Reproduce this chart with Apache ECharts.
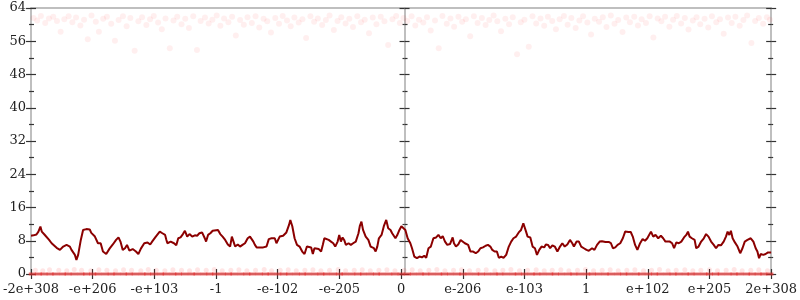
<!DOCTYPE html>
<html><head><meta charset="utf-8">
<script src="https://cdn.jsdelivr.net/npm/echarts@6/dist/echarts.min.js"></script>
<style>html,body{margin:0;padding:0;background:#fff}#c{width:800px;height:300px}</style>
</head><body><div id="c"></div>
<script>
const xLabels = ['-2e+308','-e+206','-e+103','-1','-e-102','-e-205','0','e-206','e-103','1','e+102','e+205','2e+308'];
const yTicks = [0,8,16,24,32,40,48,56,64];

const lineX = [-6.000,-5.960,-5.912,-5.880,-5.848,-5.826,-5.783,-5.751,-5.707,-5.666,-5.638,-5.585,-5.531,-5.478,-5.424,-5.370,-5.344,-5.289,-5.264,-5.236,-5.193,-5.156,-5.103,-5.048,-5.023,-4.968,-4.915,-4.871,-4.834,-4.781,-4.727,-4.674,-4.621,-4.582,-4.550,-4.513,-4.476,-4.444,-4.405,-4.352,-4.299,-4.260,-4.219,-4.164,-4.111,-4.068,-4.031,-3.977,-3.913,-3.870,-3.826,-3.805,-3.789,-3.736,-3.682,-3.645,-3.613,-3.576,-3.537,-3.505,-3.468,-3.431,-3.387,-3.344,-3.307,-3.270,-3.227,-3.183,-3.162,-3.130,-3.093,-3.055,-3.023,-2.969,-2.932,-2.894,-2.852,-2.809,-2.772,-2.744,-2.717,-2.691,-2.648,-2.611,-2.572,-2.531,-2.487,-2.450,-2.423,-2.395,-2.370,-2.342,-2.289,-2.235,-2.209,-2.182,-2.145,-2.101,-2.048,-2.021,-1.994,-1.968,-1.913,-1.860,-1.817,-1.796,-1.764,-1.727,-1.688,-1.646,-1.603,-1.566,-1.527,-1.495,-1.458,-1.431,-1.405,-1.378,-1.334,-1.297,-1.270,-1.244,-1.217,-1.174,-1.137,-1.100,-1.068,-1.029,-1.003,-0.976,-0.949,-0.923,-0.895,-0.852,-0.815,-0.778,-0.735,-0.691,-0.670,-0.643,-0.617,-0.574,-0.531,-0.494,-0.466,-0.441,-0.413,-0.386,-0.360,-0.317,-0.280,-0.241,-0.209,-0.172,-0.145,-0.119,-0.092,-0.064,-0.027,0.005,0.032,0.069,0.106,0.150,0.177,0.214,0.257,0.299,0.338,0.375,0.407,0.444,0.482,0.524,0.568,0.605,0.643,0.675,0.712,0.749,0.793,0.836,0.857,0.889,0.926,0.965,0.997,1.034,1.087,1.125,1.167,1.211,1.248,1.286,1.328,1.371,1.408,1.447,1.479,1.516,1.553,1.585,1.624,1.661,1.704,1.746,1.785,1.822,1.865,1.907,1.945,1.982,2.000,2.026,2.051,2.095,2.132,2.170,2.203,2.240,2.277,2.320,2.347,2.384,2.416,2.453,2.492,2.534,2.577,2.614,2.653,2.695,2.738,2.775,2.802,2.846,2.883,2.920,2.963,3.006,3.043,3.096,3.135,3.177,3.220,3.257,3.312,3.365,3.402,3.434,3.473,3.510,3.553,3.595,3.633,3.686,3.723,3.756,3.794,3.831,3.875,3.916,3.955,3.992,4.008,4.051,4.088,4.125,4.169,4.212,4.249,4.286,4.318,4.357,4.394,4.426,4.463,4.502,4.543,4.587,4.624,4.651,4.678,4.715,4.759,4.785,4.823,4.865,4.908,4.945,4.984,5.026,5.069,5.106,5.145,5.186,5.230,5.267,5.294,5.322,5.347,5.375,5.412,5.455,5.498,5.535,5.572,5.616,5.669,5.712,5.749,5.777,5.804,5.830,5.873,5.910,5.949,6.000];
const lineY = [9.2,9.3,9.5,10.2,11.4,10.2,9.5,9.3,8.2,7.4,7.0,6.3,5.8,6.6,7.0,6.6,5.8,4.6,3.4,4.6,8.2,10.6,10.8,10.7,9.9,9.1,7.4,7.4,5.4,4.8,6.1,7.1,8.2,8.8,7.8,5.8,6.2,7.0,5.6,6.0,5.4,4.8,6.1,7.4,7.6,7.1,7.9,9.0,10.2,9.8,9.4,8.2,7.4,7.8,7.4,6.9,8.6,8.8,9.6,10.4,9.0,9.6,9.0,9.3,9.2,9.8,10.0,8.6,7.8,9.4,9.8,10.4,10.6,10.6,9.6,9.0,8.2,7.1,6.6,9.0,7.8,6.6,7.1,6.6,7.0,7.4,8.6,9.0,8.6,7.8,7.0,6.4,6.4,6.4,6.0,6.6,8.4,8.6,8.6,7.4,7.0,9.0,9.2,10.0,11.8,13.0,11.5,8.6,7.0,6.6,5.4,4.8,6.6,7.0,6.4,4.8,6.2,5.8,6.0,5.4,7.0,8.6,8.6,8.2,7.8,7.4,6.6,7.8,9.4,7.8,8.8,8.2,7.0,7.4,7.0,7.4,7.8,9.8,11.5,12.6,10.6,9.0,8.2,6.6,7.0,6.2,5.4,6.6,8.6,9.4,11.5,13.0,11.0,10.6,9.8,10.2,8.6,9.3,10.6,11.5,11.3,10.6,8.6,7.4,6.2,4.2,3.8,4.2,4.0,4.4,3.9,6.2,6.6,8.6,8.8,9.4,8.6,9.1,7.8,7.0,7.2,8.8,7.4,6.6,7.1,8.2,8.6,7.4,7.0,5.4,5.4,5.0,5.4,6.2,6.4,6.8,7.0,6.6,5.8,5.4,5.4,3.9,4.2,3.9,4.6,6.6,7.8,8.6,9.0,10.0,10.6,12.2,12.0,10.2,9.0,8.8,6.6,6.2,4.6,5.8,6.6,6.4,7.1,7.0,6.2,6.9,6.6,5.4,6.6,7.4,6.6,7.1,8.2,7.4,6.6,7.8,7.8,6.6,6.2,5.8,5.6,6.2,5.8,7.0,7.8,7.9,7.7,7.7,7.4,6.2,6.4,7.0,7.4,8.6,10.2,10.1,10.1,9.0,7.0,5.8,7.4,8.4,8.0,8.6,9.0,10.2,9.0,9.4,8.6,9.2,8.6,7.8,8.2,7.8,7.4,6.2,7.6,7.4,7.8,8.8,9.4,10.2,9.0,8.6,8.2,6.2,6.6,7.8,8.6,9.6,9.0,7.8,7.0,6.2,7.0,6.9,7.8,9.0,10.2,9.4,10.4,8.6,7.6,6.6,5.0,6.2,7.8,8.2,8.6,7.8,6.2,5.4,3.8,4.8,4.6,4.8,5.2,5.2];

const topPts = [[-5.96,61.6],[-5.90,61.0],[-5.84,62.1],[-5.77,60.4],[-5.71,61.5],[-5.64,61.9],[-5.58,60.9],
[-5.52,58.3],[-5.46,61.3],[-5.39,62.0],[-5.33,60.6],[-5.27,61.7],[-5.20,59.8],[-5.14,61.2],
[-5.08,56.5],[-5.02,62.2],[-4.95,60.7],[-4.90,58.3],[-4.83,61.4],[-4.77,61.9],[-4.70,60.2],
[-4.64,56.1],[-4.58,61.1],[-4.51,62.0],[-4.45,59.6],[-4.39,61.6],[-4.32,53.7],[-4.26,60.8],
[-4.20,61.8],[-4.13,59.9],[-4.07,61.3],[-4.01,62.1],[-3.94,60.5],[-3.88,58.9],[-3.82,61.5],
[-3.75,54.3],[-3.69,61.0],[-3.63,61.9],[-3.56,60.1],[-3.50,61.4],[-3.44,59.2],[-3.37,62.0],
[-3.31,53.9],[-3.25,60.9],[-3.18,61.7],[-3.12,60.3],[-3.06,61.2],[-2.99,62.2],[-2.93,59.7],
[-2.87,61.5],[-2.80,60.6],[-2.74,61.9],[-2.68,57.4],[-2.61,61.1],[-2.55,60.0],[-2.49,61.8],
[-2.42,60.4],[-2.36,62.0],[-2.30,59.3],[-2.23,61.4],[-2.17,60.8],[-2.11,58.1],[-2.04,61.6],
[-1.98,60.2],[-1.92,62.1],[-1.85,61.0],[-1.79,59.6],[-1.73,61.7],[-1.66,60.5],[-1.60,61.3],
[-1.54,56.8],[-1.47,62.0],[-1.41,60.7],[-1.35,61.5],[-1.28,59.9],[-1.22,61.1],[-1.16,62.2],
[-1.09,58.7],[-1.03,60.9],[-0.97,61.8],[-0.90,60.3],[-0.84,61.4],[-0.78,59.4],[-0.71,62.0],
[-0.65,60.6],[-0.59,61.2],[-0.52,57.9],[-0.46,61.7],[-0.40,60.1],[-0.33,61.9],[-0.27,60.8],
[-0.21,55.1],[-0.14,61.3],[-0.08,62.1],[-0.02,60.4],
[0.04,61.6],[0.10,60.9],[0.17,62.0],[0.23,59.8],[0.29,61.2],[0.36,60.5],[0.42,61.8],
[0.48,58.6],[0.55,61.0],[0.61,54.3],[0.67,62.1],[0.74,60.2],[0.80,61.5],[0.86,59.5],
[0.93,61.9],[0.99,60.7],[1.05,61.3],[1.12,57.2],[1.18,62.0],[1.24,60.4],[1.31,61.6],
[1.37,59.9],[1.43,61.1],[1.50,62.2],[1.56,60.8],[1.62,58.4],[1.69,61.4],[1.75,60.1],
[1.81,61.8],[1.88,52.9],[1.94,60.6],[2.00,61.2],[2.07,54.7],[2.13,62.0],[2.19,60.3],
[2.26,61.5],[2.32,59.7],[2.38,61.9],[2.45,60.9],[2.51,58.9],[2.57,61.3],[2.64,62.1],
[2.70,60.0],[2.76,61.6],[2.83,59.2],[2.89,61.0],[2.95,62.0],[3.02,60.5],[3.08,57.6],
[3.14,61.4],[3.21,60.7],[3.27,61.8],[3.33,59.4],[3.40,62.2],[3.46,60.2],[3.52,61.1],
[3.59,58.2],[3.65,61.7],[3.71,60.6],[3.78,61.9],[3.84,59.8],[3.90,61.3],[3.97,60.4],
[4.03,62.0],[4.09,56.9],[4.16,61.5],[4.22,60.8],[4.28,61.9],[4.35,59.5],[4.41,61.2],
[4.47,62.1],[4.54,60.3],[4.60,61.6],[4.66,58.8],[4.73,61.0],[4.79,61.8],[4.85,60.1],
[4.92,61.4],[4.98,59.3],[5.04,62.0],[5.11,60.6],[5.17,61.3],[5.23,57.8],[5.30,61.7],
[5.36,60.4],[5.42,61.9],[5.49,59.7],[5.55,61.1],[5.61,62.2],[5.68,55.6],[5.74,60.9],
[5.80,61.6],[5.87,60.2],[5.93,61.8],[5.98,61.2]];

const onePts = [[-5.93,0.9],[-5.81,0.8],[-5.70,1.0],[-5.55,0.9],[-5.42,0.8],[-5.30,1.1],[-5.18,0.9],[-5.03,0.8],[-4.90,1.0],[-4.77,0.9],[-4.63,0.8],[-4.50,1.0],[-4.37,0.9],[-4.22,0.8],[-4.10,1.1],[-3.97,0.9],[-3.83,0.8],[-3.70,1.0],[-3.56,0.9],[-3.43,0.8],[-3.30,1.0],[-3.16,0.9],[-3.03,1.1],[-2.90,0.8],[-2.76,0.9],[-2.63,1.0],[-2.50,0.8],[-2.36,0.9],[-2.22,1.1],[-2.10,0.8],[-1.96,0.9],[-1.83,1.0],[-1.70,0.8],[-1.56,0.9],[-1.43,1.0],[-1.30,0.8],[-1.16,0.9],[-1.02,1.1],[-0.90,0.8],[-0.76,0.9],[-0.63,1.0],[-0.50,0.8],[-0.36,0.9],[-0.23,1.0],[-0.10,0.8],
[0.05,0.9],[0.18,1.0],[0.31,0.8],[0.45,0.9],[0.58,1.1],[0.71,0.8],[0.85,0.9],[0.98,1.0],[1.11,0.8],[1.25,0.9],[1.38,1.0],[1.52,0.8],[1.65,0.9],[1.78,1.1],[1.92,0.8],[2.05,0.9],[2.19,1.0],[2.32,0.8],[2.45,0.9],[2.59,1.0],[2.72,0.8],[2.86,0.9],[2.99,1.1],[3.12,0.8],[3.26,0.9],[3.39,1.0],[3.52,0.8],[3.66,0.9],[3.79,1.0],[3.93,0.8],[4.06,0.9],[4.19,1.1],[4.33,0.8],[4.46,0.9],[4.60,1.0],[4.73,0.8],[4.86,0.9],[5.00,1.0],[5.13,0.8],[5.27,0.9],[5.40,1.1],[5.53,0.8],[5.67,0.9],[5.80,1.0],[5.94,0.8]];

const zeroX = [-5.98,-5.88,-5.79,-5.69,-5.60,-5.49,-5.40,-5.30,-5.19,-5.10,-5.00,-4.91,-4.80,-4.70,-4.61,-4.50,-4.41,-4.31,-4.20,-4.11,-4.01,-3.90,-3.81,-3.70,-3.61,-3.51,-3.40,-3.31,-3.20,-3.10,-3.01,-2.90,-2.80,-2.71,-2.60,-2.50,-2.41,-2.30,-2.20,-2.11,-2.00,-1.90,-1.81,-1.70,-1.60,-1.51,-1.40,-1.30,-1.21,-1.10,-1.00,-0.91,-0.80,-0.70,-0.61,-0.50,-0.40,-0.31,-0.20,-0.10,0.00,0.10,0.20,0.31,0.40,0.50,0.61,0.70,0.80,0.91,1.00,1.10,1.21,1.30,1.40,1.51,1.60,1.70,1.81,1.90,2.00,2.11,2.20,2.30,2.41,2.50,2.60,2.71,2.80,2.90,3.01,3.10,3.20,3.31,3.40,3.51,3.61,3.70,3.81,3.90,4.01,4.11,4.20,4.31,4.41,4.50,4.61,4.70,4.80,4.91,5.00,5.10,5.19,5.30,5.40,5.49,5.60,5.69,5.79,5.88,5.98];
const zeroY = zeroX.map(() => 0);

const FONT = 'DejaVu Serif';
const GRAY = '#aaaaaa';
const TICK = '#333333';
const gridW = 800 - 27 - 26;

function mergeDeep(base, extra) {
  for (const k in extra) {
    if (extra[k] && typeof extra[k] === 'object' && !Array.isArray(extra[k]) && base[k] && typeof base[k] === 'object') mergeDeep(base[k], extra[k]);
    else base[k] = extra[k];
  }
  return base;
}
function Y(pos, offset, inside, line, labels, minorLen) {
  const a = {
    type: 'value', position: pos, offset: offset,
    min: yTicks[0], max: yTicks[yTicks.length - 1], interval: yTicks[1] - yTicks[0],
    splitLine: { show: false },
    axisLine: { show: line, onZero: false, lineStyle: { color: GRAY, width: 1.5 } },
    axisTick: { show: true, inside: inside, length: 5, lineStyle: { color: TICK, width: 1.2 } },
    minorTick: { show: true, splitNumber: 2, length: minorLen, lineStyle: { color: TICK, width: 1.2 } },
    axisLabel: { show: false }
  };
  if (labels) a.axisLabel = { show: true, margin: 5, fontFamily: FONT, fontSize: 13, color: '#222' };
  return a;
}
function xAx(opts) {
  return mergeDeep({
    type: 'value', min: -6, max: 6, interval: 1,
    splitLine: { show: false },
    axisLine: { show: false, onZero: false, lineStyle: { color: GRAY, width: 1.5 } },
    axisTick: { show: true, length: 5, lineStyle: { color: TICK, width: 1.2 } },
    axisLabel: { show: false }
  }, opts);
}

const chart = echarts.init(document.getElementById('c'), null, { renderer: 'canvas' });
chart.setOption({
  animation: false,
  backgroundColor: '#fff',
  grid: { left: 27, right: 26, top: 8, bottom: 26, containLabel: false },
  xAxis: [
    xAx({ position: 'bottom', axisLine: { show: true },
      axisLabel: { show: true, margin: 9, fontFamily: FONT, fontSize: 13, color: '#222', showMinLabel: true, showMaxLabel: true,
        formatter: v => xLabels[Math.round(v) + 6] } }),
    xAx({ position: 'bottom', axisTick: { inside: true } }),
    xAx({ position: 'top', axisLine: { show: true }, axisTick: { show: false } })
  ],
  yAxis: [
    Y('left', 0, false, true, true, 2),
    Y('left', 0, true, false, false, 3),
    Y('left', -gridW / 2, false, true, false, 2),
    Y('left', -gridW / 2, true, false, false, 3),
    Y('right', 0, false, true, false, 2),
    Y('right', 0, true, false, false, 3)
  ],
  series: [
    { type: 'scatter', data: topPts, symbolSize: 6, itemStyle: { color: 'rgba(255,0,0,0.08)' }, silent: true, z: 2 },
    { type: 'scatter', data: onePts, symbolSize: 5, itemStyle: { color: 'rgba(255,0,0,0.13)' }, silent: true, z: 2 },
    { type: 'scatter', data: zeroX.map((x, i) => [x, zeroY[i]]), symbol: 'rect', symbolSize: [7, 3], itemStyle: { color: 'rgba(232,40,40,0.8)' }, silent: true, z: 3 },
    { type: 'line', data: lineX.map((x, i) => [x, lineY[i]]), showSymbol: false, symbol: 'none',
      lineStyle: { color: '#8b0000', width: 2 }, z: 5, silent: true }
  ]
});
</script></body></html>
